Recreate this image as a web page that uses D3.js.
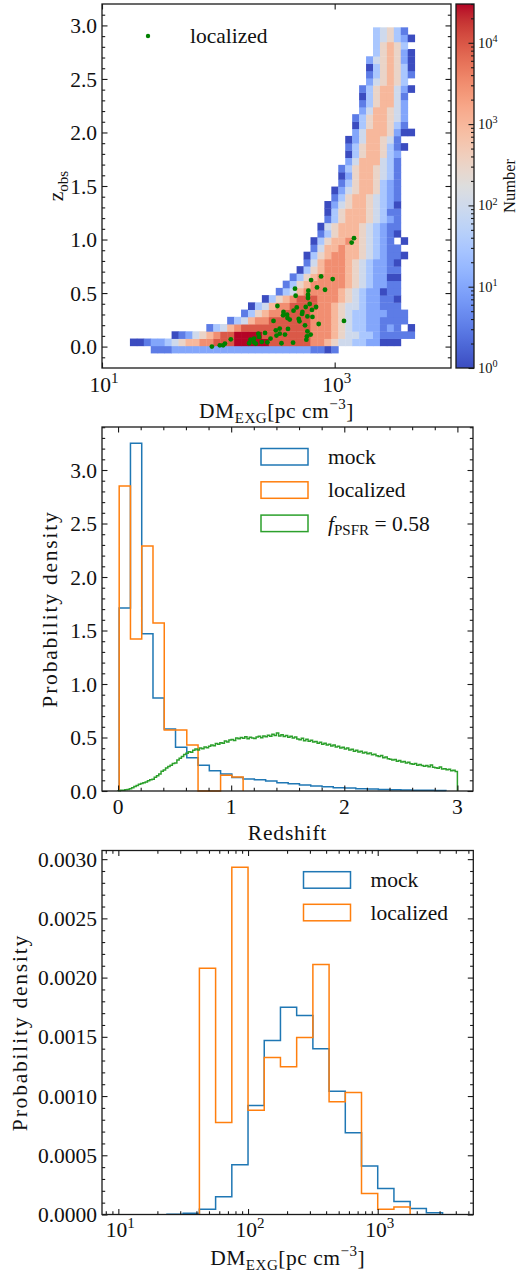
<!DOCTYPE html>
<html>
<head>
<meta charset="utf-8">
<script src="https://cdn.jsdelivr.net/npm/d3@7"></script>
<style>
  body { margin: 0; background: #fff; }
</style>
</head>
<body>
<svg id="fig" width="518" height="1275"></svg>
<script>
// ---------------- data ----------------
// top panel: 2d histogram of the mock sample, bins in log10(DM) and in z
const dmLogStart = 1.24, dmLogStep = 0.0597;
const zBinStart = -0.06, zBinStep = 0.0676;
// rows from the lowest z bin up: [first DM bin, one colour level per bin 0..9 ('.' = empty)]
const zRows = [
  [3, "111222222222222222222221101"],
  [0, "001223456677888999998888887765443322000"],
  [6, "01245678899998888888777654433211111"],
  [11, "1346788888888887776543322121.0"],
  [14, "13467788888877765433221111"],
  [16, "135677888877765433222111"],
  [17, "0346778888776544322111"],
  [19, "03567888777654322110"],
  [21, "134677777654322011"],
  [22, "13567777765432211"],
  [23, "1356777765432200"],
  [24, "035677765432211"],
  [25, "14677765432210"],
  [25, "035677665432110"],
  [26, "1466766543211"],
  [26, "035667654321.0"],
  [27, "135666543210"],
  [27, "045666543211"],
  [28, "13566654321"],
  [28, "03566654311"],
  [28, "02456654320"],
  [29, "1356654321"],
  [29, "0245665321"],
  [30, "135665321"],
  [30, "025665431"],
  [30, "135665431"],
  [31, "24666431"],
  [31, "03566532"],
  [31, "135665310"],
  [31, "02466541"],
  [32, "246665200"],
  [32, "03566531"],
  [32, "13566542"],
  [33, "2466542"],
  [33, "1356642"],
  [33, "0356641"],
  [33, "13566420"],
  [34, "245653"],
  [34, "1356531"],
  [34, "0356530"],
  [34, "2456520"],
  [35, "356520"],
  [35, "35653"],
  [35, "345320"],
  [35, "34531"]
];
const countMax = 30000;

// localized FRBs
const localDM = [1466, 1400, 962, 764, 627, 705, 826, 456, 462, 594, 590, 590, 322, 610, 564, 692, 472, 443, 363, 638,
  528, 390, 360, 524, 583, 644, 393, 491, 411, 498, 1202, 729, 556, 298, 337, 312, 397, 583, 622, 337,
  374, 578, 571, 439, 349, 264, 252, 221, 224, 203, 236, 210, 184, 189, 203, 128, 114, 110, 103, 88, 281, 316];
const localZ = [1.013, 0.972, 0.631, 0.655, 0.621, 0.553, 0.531, 0.541, 0.475, 0.522, 0.485, 0.454, 0.379, 0.398, 0.370, 0.370, 0.366, 0.335, 0.323, 0.342,
  0.323, 0.298, 0.292, 0.305, 0.282, 0.277, 0.267, 0.258, 0.252, 0.236, 0.240, 0.211, 0.199, 0.240, 0.168, 0.152, 0.165, 0.143, 0.112, 0.121,
  0.112, 0.096, 0.065, 0.037, 0.031, 0.040, 0.128, 0.121, 0.090, 0.075, 0.044, 0.028, 0.031, 0.065, 0.040, 0.068, 0.028, 0.012, 0.012, 0.000, 0.075, 0.103];

// middle panel: redshift densities
const zHistStart = 0.01, zHistStep = 0.0996;
const mockZ = [1.71, 3.25, 1.47, 0.87, 0.58, 0.41, 0.31, 0.24, 0.19, 0.16, 0.127, 0.112, 0.105, 0.093, 0.077,
  0.068, 0.056, 0.046, 0.040, 0.031, 0.028, 0.022, 0.019, 0.015, 0.012, 0.009, 0.007, 0.006, 0.004];
const localizedZ = [2.85, 1.42, 2.29, 1.57, 0.57, 0.57, 0.43, 0, 0, 0.148, 0.13];
const psfrStart = 0, psfrStep = 0.02;
const psfrZ = [
  0.003, 0.006, 0.008, 0.012, 0.015, 0.022, 0.030, 0.041, 0.052, 0.064,
  0.070, 0.078, 0.083, 0.095, 0.104, 0.110, 0.128, 0.142, 0.160, 0.185,
  0.196, 0.215, 0.228, 0.241, 0.256, 0.262, 0.290, 0.305, 0.322, 0.341,
  0.352, 0.368, 0.361, 0.380, 0.392, 0.384, 0.401, 0.396, 0.412, 0.405,
  0.418, 0.431, 0.424, 0.445, 0.438, 0.452, 0.447, 0.468, 0.459, 0.476,
  0.482, 0.471, 0.495, 0.488, 0.501, 0.494, 0.507, 0.489, 0.502, 0.496,
  0.491, 0.505, 0.512, 0.498, 0.515, 0.508, 0.521, 0.512, 0.530, 0.518,
  0.542, 0.515, 0.526, 0.509, 0.518, 0.503, 0.512, 0.496, 0.505, 0.487,
  0.478, 0.492, 0.470, 0.483, 0.466, 0.475, 0.458, 0.462, 0.447, 0.455,
  0.438, 0.446, 0.429, 0.436, 0.421, 0.430, 0.412, 0.419, 0.402, 0.408,
  0.393, 0.401, 0.384, 0.390, 0.372, 0.381, 0.365, 0.371, 0.356, 0.362,
  0.347, 0.354, 0.338, 0.344, 0.330, 0.322, 0.331, 0.310, 0.318, 0.302,
  0.296, 0.289, 0.294, 0.279, 0.285, 0.270, 0.276, 0.262, 0.268, 0.255,
  0.249, 0.256, 0.241, 0.247, 0.238, 0.232, 0.239, 0.226, 0.243, 0.221,
  0.218, 0.212, 0.224, 0.205, 0.209, 0.198, 0.203, 0.189, 0.195, 0.182];

// bottom panel: DM densities, bins in log10(DM)
const dmHistStep = 0.125;
const mockDMStart = 1.375;
const mockDM = [0.000003, 0.00001, 0.000045, 0.00015, 0.00042, 0.00092, 0.00147, 0.00175, 0.00168,
  0.0014, 0.00104, 0.00069, 0.00041, 0.00022, 0.00011, 0.00005, 0.000014];
const localizedDMStart = 1.625;
const localizedDM = [0.002078, 0.000777, 0.002931, 0.000881, 0.001326, 0.001247, 0.001495, 0.002111,
  0.000951, 0.00103, 0.000177, 0.000045, 0.000064];

// ---------------- drawing ----------------
const coolwarm = d3.piecewise(d3.interpolateRgb, ["#3b4cc0", "#445acc", "#4d68d7", "#5775e1", "#6282ea", "#6c8ef1",
  "#779af7", "#82a5fb", "#8db0fe", "#98b9ff", "#a3c2ff", "#aec9fd", "#b8d0f9", "#c2d5f4", "#ccd9ee", "#d5dbe6",
  "#dddddd", "#e5d8d1", "#ecd3c5", "#f1ccb8", "#f5c4ac", "#f7bba0", "#f7b194", "#f7a689", "#f49a7b", "#f18d70",
  "#ec7f63", "#e57058", "#de604d", "#d55042", "#cb3e38", "#c0282f", "#b40426"]);

const blue = "#1f77b4", orange = "#ff7f0e", green = "#2ca02c";
const ink = "#1a1a1a";
const FS = 21.5;
const FONT = '"Liberation Serif"';

const svg = d3.select("#fig");
svg.append("rect").attr("width", 518).attr("height", 1275).attr("fill", "#fff");

// text with sub/superscripts, one <text> per part: parts are strings or [text, "sub"|"sup"|"it"]
function rich(x, y, parts, size, anchor, rotate, spacing) {
  const g = svg.append("g");
  let cx = 0;
  parts.forEach(p => {
    const [s, k] = typeof p === "string" ? [p, ""] : p;
    const small = k === "sub" || k === "sup";
    const dy = k === "sub" ? 0.22 * size : k === "sup" ? -0.4 * size : 0;
    const t = g.append("text")
      .attr("x", cx).attr("y", dy)
      .style("font-family", FONT)
      .style("font-size", (small ? 0.7 * size : size) + "px")
      .style("fill", "#111")
      .text(s.replace(/ /g, "\u00a0"));
    if (spacing) t.style("letter-spacing", spacing + "px");
    if (k === "it") t.style("font-style", "italic");
    cx += t.node().getComputedTextLength();
  });
  const shift = anchor === "end" ? -cx : anchor === "start" ? 0 : -cx / 2;
  g.attr("transform", `translate(${x},${y})${rotate ? ` rotate(${rotate})` : ""} translate(${shift},0)`);
  return g;
}

function frame(b) {
  svg.append("rect")
    .attr("x", b.l).attr("y", b.t)
    .attr("width", b.r - b.l).attr("height", b.b - b.t)
    .attr("fill", "none").attr("stroke", ink).attr("stroke-width", 1.3);
}

function tickSet(b, scale, side, values, len) {
  const make = {bottom: d3.axisBottom, top: d3.axisTop, left: d3.axisLeft, right: d3.axisRight}[side];
  const pos = {bottom: [0, b.b], top: [0, b.t], left: [b.l, 0], right: [b.r, 0]}[side];
  const g = svg.append("g")
    .attr("transform", `translate(${pos})`)
    .call(make(scale).tickValues(values).tickSize(-len).tickFormat(""));
  g.select(".domain").remove();
  g.selectAll(".tick text").remove();
  g.selectAll(".tick line").attr("stroke", ink).attr("stroke-width", 1.1);
}

function stepPath(edges, values) {
  const pts = [[edges[0], 0]];
  values.forEach((v, i) => { pts.push([edges[i], v]); pts.push([edges[i + 1], v]); });
  pts.push([edges[edges.length - 1], 0]);
  return pts;
}

function legendBoxes(x, y0, dy, items) {
  items.forEach((it, i) => {
    svg.append("rect")
      .attr("x", x).attr("y", y0 + i * dy)
      .attr("width", 47).attr("height", 16.5)
      .attr("fill", "none").attr("stroke", it.color).attr("stroke-width", 1.5);
    rich(x + 67, y0 + i * dy + 15.5, it.label, FS, "start");
  });
}

const range = (a, b, s) => d3.range(a, b + s / 2, s).map(v => +v.toFixed(6));

// ======== panel 1: 2d histogram ========
const b1 = {l: 102, t: 4, r: 451, b: 368};
const x1 = d3.scaleLog().domain([10, 1e4]).range([b1.l, b1.r]);
const y1 = d3.scaleLinear().domain([-0.2, 3.2]).range([b1.b, b1.t]);
const color = d3.scaleSequentialLog(coolwarm).domain([1, countMax]).clamp(true);

const cells = [];
zRows.forEach(([k0, s], i) => {
  [...s].forEach((c, j) => {
    if (c !== ".") cells.push({i: i, k: k0 + j, n: Math.pow(countMax, +c / 9)});
  });
});
const dmEdge = k => Math.pow(10, dmLogStart + k * dmLogStep);
const zEdge = i => zBinStart + i * zBinStep;

svg.append("g").selectAll("rect").data(cells).join("rect")
  .attr("x", d => x1(dmEdge(d.k)))
  .attr("width", d => x1(dmEdge(d.k + 1)) - x1(dmEdge(d.k)) + 0.4)
  .attr("y", d => y1(zEdge(d.i + 1)))
  .attr("height", d => y1(zEdge(d.i)) - y1(zEdge(d.i + 1)) + 0.4)
  .attr("fill", d => color(d.n));

svg.append("g").selectAll("circle").data(localDM).join("circle")
  .attr("cx", d => x1(d))
  .attr("cy", (d, i) => y1(localZ[i]))
  .attr("r", 2.4)
  .attr("fill", "green");

svg.append("circle").attr("cx", 148).attr("cy", 36).attr("r", 2.2).attr("fill", "green");
rich(190, 43, ["localized"], FS, "start");

const minor1 = range(-0.1, 3.1, 0.1).filter(v => Math.abs(v * 2 - Math.round(v * 2)) > 1e-6);
tickSet(b1, y1, "left", range(0, 3, 0.5), 5.5);
tickSet(b1, y1, "right", range(0, 3, 0.5), 5.5);
tickSet(b1, y1, "left", minor1, 3.2);
tickSet(b1, y1, "right", minor1, 3.2);
tickSet(b1, x1, "bottom", [10, 1000], 5.5);
tickSet(b1, x1, "top", [10, 1000], 5.5);
frame(b1);

range(0, 3, 0.5).forEach(v => rich(97, y1(v) + 7.6, [d3.format(".1f")(v)], FS, "end"));
[[10, "1"], [1000, "3"]].forEach(([v, e]) => rich(x1(v) + 2, b1.b + 23.5, ["10", [e, "sup"]], FS, "middle"));
rich((b1.l + b1.r) / 2, 418, ["DM", ["EXG", "sub"], "[pc cm", ["\u22123", "sup"], "]"], FS, "middle", 0, 0.5);
rich(63, (b1.t + b1.b) / 2, ["z", ["obs", "sub"]], FS, "middle", -90);

// colorbar
const cb = {l: 456, t: 4, r: 474, b: 368};
const yc = d3.scaleLog().domain([1, countMax]).range([cb.b, cb.t]);
const grad = svg.append("defs").append("linearGradient")
  .attr("id", "cbgrad").attr("x1", 0).attr("y1", 1).attr("x2", 0).attr("y2", 0);
d3.range(0, 1.0001, 0.02).forEach(t => grad.append("stop").attr("offset", t).attr("stop-color", coolwarm(t)));
svg.append("rect").attr("x", cb.l).attr("y", cb.t).attr("width", cb.r - cb.l).attr("height", cb.b - cb.t)
  .attr("fill", "url(#cbgrad)");
const cbMajor = [1, 10, 100, 1000, 10000];
const cbMinor = [];
cbMajor.forEach(m => d3.range(2, 10).forEach(f => { if (m * f <= countMax) cbMinor.push(m * f); }));
tickSet(cb, yc, "right", cbMajor, 5.5);
tickSet(cb, yc, "right", cbMinor, 3);
frame(cb);
cbMajor.forEach((v, i) => rich(478, yc(v) + 5, ["10", [String(i), "sup"]], 14.5, "start"));
rich(515, (cb.t + cb.b) / 2, ["Number"], 16.5, "middle", -90);

// ======== panel 2: redshift histogram ========
const b2 = {l: 102, t: 427, r: 473, b: 791};
const x2 = d3.scaleLinear().domain([-0.142, 3.138]).range([b2.l, b2.r]);
const y2 = d3.scaleLinear().domain([0, 3.402]).range([b2.b, b2.t]);
const line2 = d3.line().x(d => x2(d[0])).y(d => y2(d[1]));

const edgesOf = (start, step, n) => d3.range(n + 1).map(j => start + j * step);
[[edgesOf(zHistStart, zHistStep, mockZ.length), mockZ, blue],
 [edgesOf(zHistStart, zHistStep, localizedZ.length), localizedZ, orange],
 [edgesOf(psfrStart, psfrStep, psfrZ.length), psfrZ, green]].forEach(([e, v, c]) => {
  svg.append("path").attr("d", line2(stepPath(e, v)))
    .attr("fill", "none").attr("stroke", c).attr("stroke-width", 1.5);
});

legendBoxes(261, 448.5, 33.3, [
  {color: blue, label: ["mock"]},
  {color: orange, label: ["localized"]},
  {color: green, label: [["f", "it"], ["PSFR", "sub"], " = 0.58"]}
]);

const minor2x = range(0.2, 3.0, 0.2).filter(v => Math.abs(v - Math.round(v)) > 1e-6);
const minor2y = range(0.1, 3.4, 0.1).filter(v => Math.abs(v * 2 - Math.round(v * 2)) > 1e-6);
tickSet(b2, x2, "bottom", [0, 1, 2, 3], 5.5);
tickSet(b2, x2, "top", [0, 1, 2, 3], 5.5);
tickSet(b2, x2, "bottom", minor2x, 3.2);
tickSet(b2, x2, "top", minor2x, 3.2);
tickSet(b2, y2, "left", range(0, 3, 0.5), 5.5);
tickSet(b2, y2, "right", range(0, 3, 0.5), 5.5);
tickSet(b2, y2, "left", minor2y, 3.2);
tickSet(b2, y2, "right", minor2y, 3.2);
frame(b2);

range(0, 3, 0.5).forEach(v => rich(97, y2(v) + 7.6, [d3.format(".1f")(v)], FS, "end"));
[0, 1, 2, 3].forEach(v => rich(x2(v), b2.b + 22.5, [String(v)], FS, "middle"));
rich((b2.l + b2.r) / 2, 840, ["Redshift"], FS, "middle", 0, 0.8);
rich(57, (b2.t + b2.b) / 2, ["Probability density"], FS, "middle", -90, 1.8);

// ======== panel 3: DM histogram ========
const b3 = {l: 102, t: 850.5, r: 473.3, b: 1214.5};
const x3 = d3.scaleLog().domain([Math.pow(10, 0.874), Math.pow(10, 3.737)]).range([b3.l, b3.r]);
const y3 = d3.scaleLinear().domain([0, 0.003073]).range([b3.b, b3.t]);
const line3 = d3.line().x(d => x3(d[0])).y(d => y3(d[1]));

const dmEdges = (start, n) => d3.range(n + 1).map(j => Math.pow(10, start + j * dmHistStep));
[[dmEdges(mockDMStart, mockDM.length), mockDM, blue], [dmEdges(localizedDMStart, localizedDM.length), localizedDM, orange]]
  .forEach(([e, v, c]) => {
    svg.append("path").attr("d", line3(stepPath(e, v)))
      .attr("fill", "none").attr("stroke", c).attr("stroke-width", 1.5);
  });

legendBoxes(303.5, 871.7, 32.6, [
  {color: blue, label: ["mock"]},
  {color: orange, label: ["localized"]}
]);

const dmMinor = [];
[1, 10, 100, 1000].forEach(m => d3.range(2, 10).forEach(f => {
  const v = m * f;
  if (v > x3.domain()[0] && v < x3.domain()[1]) dmMinor.push(v);
}));
tickSet(b3, x3, "bottom", [10, 100, 1000], 5.5);
tickSet(b3, x3, "top", [10, 100, 1000], 5.5);
tickSet(b3, x3, "bottom", dmMinor, 3.2);
tickSet(b3, x3, "top", dmMinor, 3.2);
const pMajor = range(0, 0.003, 0.0005);
const pMinor = range(0.0001, 0.003, 0.0001).filter(v => Math.abs(v / 0.0005 - Math.round(v / 0.0005)) > 1e-6);
tickSet(b3, y3, "left", pMajor, 5.5);
tickSet(b3, y3, "right", pMajor, 5.5);
tickSet(b3, y3, "left", pMinor, 3.2);
tickSet(b3, y3, "right", pMinor, 3.2);
frame(b3);

pMajor.forEach(v => rich(97, y3(v) + 7.6, [d3.format(".4f")(v)], FS, "end"));
[[10, "1"], [100, "2"], [1000, "3"]].forEach(([v, e]) => rich(x3(v) + 2, b3.b + 22.5, ["10", [e, "sup"]], FS, "middle"));
rich((b3.l + b3.r) / 2, 1265, ["DM", ["EXG", "sub"], "[pc cm", ["\u22123", "sup"], "]"], FS, "middle", 0, 0.5);
rich(27, (b3.t + b3.b) / 2, ["Probability density"], FS, "middle", -90, 1.8);
</script>
</body>
</html>
